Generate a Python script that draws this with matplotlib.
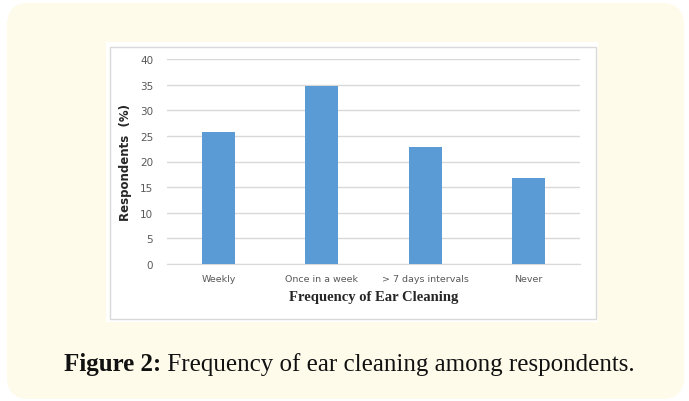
import matplotlib.pyplot as plt
from matplotlib.patches import FancyBboxPatch, Rectangle
from matplotlib.transforms import IdentityTransform

categories = ['Weekly', 'Once in a week', '> 7 days intervals', 'Never']
respondents = [25.8, 34.7, 22.8, 16.7]
yticks = [0, 5, 10, 15, 20, 25, 30, 35, 40]

W, H = 689, 402
fig = plt.figure(figsize=(W / 100, H / 100), dpi=100)
fig.patch.set_facecolor('white')

def fx(px):
    return px / W

def fy(py):
    return 1 - py / H

# cream rounded card (pixel coords, origin bottom-left)
card = FancyBboxPatch((7, H - 400), 684 - 7, 400 - 4,
                      boxstyle='round,pad=0,rounding_size=22',
                      transform=IdentityTransform(), facecolor='#fefbea',
                      edgecolor='none', zorder=0)
fig.patches.append(card)

# white chart image with light border
fig.patches.append(Rectangle((fx(106), fy(323)), fx(598) - fx(106), fy(43) - fy(323),
                             transform=fig.transFigure, facecolor='white',
                             edgecolor='none', zorder=1))
fig.patches.append(Rectangle((fx(110), fy(320)), fx(596) - fx(110), fy(48) - fy(320),
                             transform=fig.transFigure, facecolor='white',
                             edgecolor='#d9d9d9', linewidth=1.0, zorder=2))

ax = fig.add_axes([fx(167), fy(265), fx(580) - fx(167), fy(60) - fy(265)])
ax.set_zorder(5)
ax.set_facecolor('none')
ax.bar(range(len(categories)), respondents, width=0.32, color='#5b9bd5', zorder=3)
ax.set_xlim(-0.5, len(categories) - 0.5)
ax.set_ylim(0, 40)
ax.set_yticks(yticks)
ax.set_xticks(range(len(categories)))
ax.set_xticklabels(categories)
ax.grid(axis='y', color='#d9d9d9', linewidth=1.0, zorder=0)
ax.set_axisbelow(True)
for s in ['top', 'right', 'left']:
    ax.spines[s].set_visible(False)
ax.spines['bottom'].set_color('#d9d9d9')
ax.tick_params(axis='both', length=0, colors='#595959')
ax.tick_params(axis='y', pad=10, labelsize=7.5)
ax.tick_params(axis='x', pad=7, labelsize=6.8)

ax.set_xlabel('Frequency of Ear Cleaning', fontsize=10.5, fontweight='bold',
              family='Liberation Serif', color='#262626', labelpad=5)
ax.set_ylabel('Respondents  (%)', fontsize=8.5, fontweight='bold',
              family='DejaVu Sans', color='#262626', labelpad=6)

# caption: bold part + regular part, centred together
t1 = fig.text(0, fy(365), 'Figure 2:', fontsize=18, fontweight='bold',
              family='Liberation Serif', va='center', ha='left', color='#111111')
t2 = fig.text(0, fy(365), ' Frequency of ear cleaning among respondents.', fontsize=18,
              family='Liberation Serif', va='center', ha='left', color='#111111')
r = fig.canvas.get_renderer()
w1 = t1.get_window_extent(r).width
w2 = t2.get_window_extent(r).width
x0 = 349.5 - (w1 + w2) / 2
t1.set_x(fx(x0))
t2.set_x(fx(x0 + w1))

fig.savefig('out.png', dpi=100, facecolor=fig.get_facecolor())
